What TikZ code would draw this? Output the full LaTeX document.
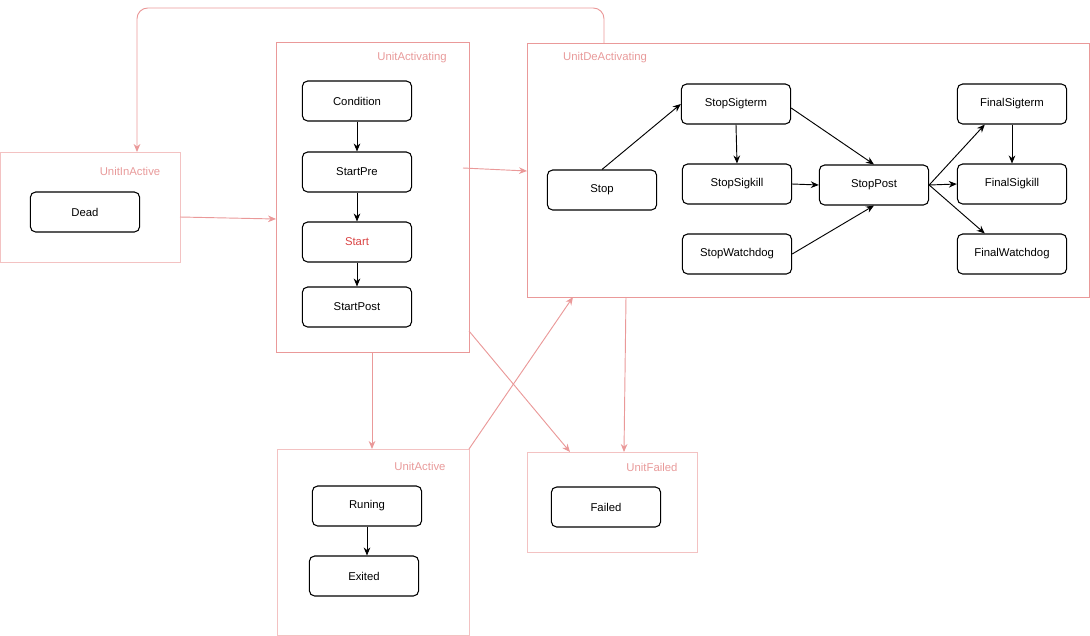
\documentclass[tikz,border=0pt]{standalone}
\usepackage{fontspec}
\setmainfont{Liberation Sans}
\usetikzlibrary{arrows.meta}
\definecolor{pk}{HTML}{EA9999}
\definecolor{pkl}{HTML}{F3C2C2}
\definecolor{pkt}{HTML}{E89A9A}
\definecolor{rd}{HTML}{D94444}
\begin{document}
\begin{tikzpicture}[x=0.75pt,y=-0.75pt,font=\fontsize{8.5pt}{10pt}\selectfont,
  st/.style={draw,rounded corners=4pt,line width=0.8pt,minimum width=82pt,minimum height=30pt,inner sep=0pt},
  cont/.style={draw=pk,line width=0.6pt},
  contl/.style={draw=pkl,line width=0.6pt},
  lab/.style={text=pkt,inner sep=0pt},
  ba/.style={-{Stealth[length=6pt,width=5pt]},line width=0.7pt},
  pa/.style={draw=pk,-{Stealth[length=6pt,width=5pt]},line width=0.7pt}]
\useasboundingbox (0,0) rectangle (1090,636);
% containers
\node[contl,minimum width=135pt,minimum height=82.5pt,inner sep=0pt] (inact) at (90,207) {};
\node[cont,minimum width=144.75pt,minimum height=232.5pt,inner sep=0pt] (activ) at (372.5,197) {};
\node[cont,minimum width=421.5pt,minimum height=190.5pt,inner sep=0pt] (deact) at (808,170) {};
\node[contl,minimum width=144pt,minimum height=139.5pt,inner sep=0pt] (active) at (373,542) {};
\node[contl,minimum width=127.5pt,minimum height=75pt,inner sep=0pt] (failc) at (612,502) {};
\node[lab] (l1) at (130,171) {UnitInActive};
\node[lab] (l2) at (412,58) {UnitActivating};
\node[lab] (l3) at (605,58) {UnitDeActivating};
\node[lab] (l4) at (420,466) {UnitActive};
\node[lab] (l5) at (652,467) {UnitFailed};
% states
\node[st] (dead) at (85,212) {Dead};
\node[st] (cond) at (357,101) {Condition};
\node[st] (spre) at (357,172) {StartPre};
\node[st,text=rd] (start) at (357,242) {Start};
\node[st] (spost) at (357,307) {StartPost};
\node[st] (stop) at (602,190) {Stop};
\node[st] (sterm) at (736,104) {StopSigterm};
\node[st] (skill) at (737,184) {StopSigkill};
\node[st] (swd) at (737,254) {StopWatchdog};
\node[st] (spst) at (874,185) {StopPost};
\node[st] (fterm) at (1012,104) {FinalSigterm};
\node[st] (fkill) at (1012,184) {FinalSigkill};
\node[st] (fwd) at (1012,254) {FinalWatchdog};
\node[st] (run) at (367,506) {Runing};
\node[st] (exit) at (364,576) {Exited};
\node[st] (fail) at (606,507) {Failed};
% black arrows
\draw[ba] (cond) -- (spre);
\draw[ba] (spre) -- (start);
\draw[ba] (start) -- (spost);
\draw[ba] (stop.north) -- (sterm.west);
\draw[ba] (sterm.south) -- (skill.north);
\draw[ba] ([yshift=-3pt]sterm.east) -- (spst.north);
\draw[ba] (skill.east) -- (spst.west);
\draw[ba] (swd.east) -- (spst.south);
\draw[ba] (spst.east) -- ([xshift=21pt]fterm.south west);
\draw[ba] (spst.east) -- (fkill.west);
\draw[ba] (spst.east) -- ([xshift=21pt]fwd.north west);
\draw[ba] (fterm) -- (fkill);
\draw[ba] (run.south) -- (run.south |- exit.north);
% pink arrows
\coordinate (a1) at (180,217); \coordinate (a2) at (276,219);
\draw[pa] (a1) -- (a2);
\coordinate (b1) at (463,168); \coordinate (b2) at (527,171);
\draw[pa] (b1) -- (b2);
\coordinate (c1) at (604,43); \coordinate (c2) at (137,152);
\draw[pa,rounded corners=8pt] (c1) -- (604,8) -- (137,8) -- (c2);
\coordinate (d1) at (372,352); \coordinate (d2) at (372,449);
\draw[pa] (d1) -- (d2);
\coordinate (e1) at (469,331); \coordinate (e2) at (570,452);
\draw[pa] (e1) -- (e2);
\coordinate (f1) at (469,449); \coordinate (f2) at (573,297);
\draw[pa] (f1) -- (f2);
\coordinate (g1) at (626,297); \coordinate (g2) at (624,452);
\draw[pa] (g1) -- (g2);
\end{tikzpicture}
\end{document}
